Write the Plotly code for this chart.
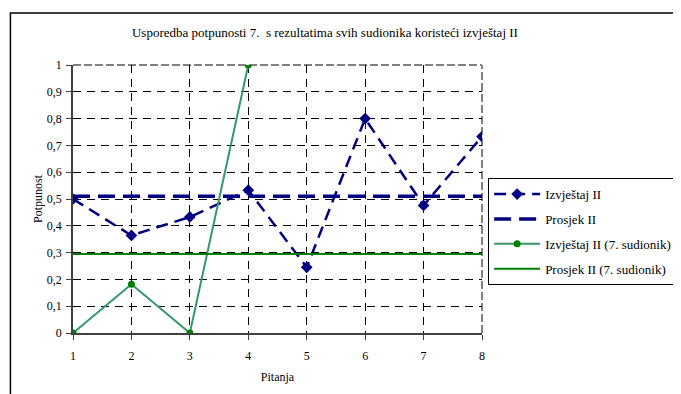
import plotly.graph_objects as go

# podaci
pitanja = [1, 2, 3, 4, 5, 6, 7, 8]
izvjestaj_ii = [0.5, 0.364, 0.433, 0.533, 0.245, 0.8, 0.476, 0.733]
prosjek_ii = [0.51, 0.51, 0.51, 0.51, 0.51, 0.51, 0.51, 0.51]
pitanja_7 = [1, 2, 3, 4]
izvjestaj_ii_7 = [0, 0.182, 0, 1]
prosjek_ii_7 = [0.295, 0.295, 0.295, 0.295, 0.295, 0.295, 0.295, 0.295]

NAVY = '#000080'
GREEN = '#008000'
SEA = '#339966'
FONT = 'Liberation Serif'

fig = go.Figure()

fig.add_trace(go.Scatter(x=pitanja, y=izvjestaj_ii, name='Izvještaj II', mode='lines+markers',
                         line=dict(color=NAVY, width=2.5, dash='12px,7px'),
                         marker=dict(symbol='diamond', size=9, color=NAVY),
                         legendgroup='a'))
fig.add_trace(go.Scatter(x=pitanja, y=prosjek_ii, name='Prosjek II', mode='lines',
                         line=dict(color=NAVY, width=3.5, dash='17px,8px'),
                         legendgroup='b'))
fig.add_trace(go.Scatter(x=pitanja_7, y=izvjestaj_ii_7, name='Izvještaj II (7. sudionik)', mode='lines+markers',
                         line=dict(color=SEA, width=2),
                         marker=dict(symbol='circle', size=7, color=GREEN),
                         legendgroup='c'))
fig.add_trace(go.Scatter(x=pitanja, y=prosjek_ii_7, name='Prosjek II (7. sudionik)', mode='lines',
                         line=dict(color=GREEN, width=2),
                         legendgroup='d'))

# stranica ima 8px margine u pregledniku, pa je sve pomaknuto za -8px
fig.update_layout(
    width=681, height=394,
    margin=dict(l=65, r=207, t=57, b=69, autoexpand=False),
    paper_bgcolor='#ffffff', plot_bgcolor='#ffffff',
    separators=', ',
    font=dict(family=FONT, size=12, color='#000000'),
    title=dict(text='Usporedba potpunosti 7.\u00a0 s rezultatima svih sudionika koristeći izvještaj II',
               xref='paper', x=0.616, xanchor='center', yref='container', y=0.939, yanchor='middle',
               font=dict(family=FONT, size=13)),
    legend=dict(x=1.015, y=0.578, xanchor='left', yanchor='top', bgcolor='#ffffff',
                bordercolor='#000000', borderwidth=1, itemwidth=46, tracegroupgap=5,
                font=dict(family=FONT, size=13)),
    showlegend=True,
)

fig.update_xaxes(range=[1, 8], tickvals=pitanja, showline=True, linecolor='#404040', linewidth=1.5,
                 ticks='outside', ticklen=5, tickcolor='#404040', ticklabelstandoff=6,
                 tickfont=dict(family=FONT, size=12),
                 showgrid=True, gridcolor='#000000', gridwidth=1, griddash='8px,6px',
                 zeroline=False, title=dict(text='Pitanja', standoff=10, font=dict(family=FONT, size=12)))
fig.update_yaxes(range=[0, 1], dtick=0.1, showline=True, linecolor='#404040', linewidth=1.5,
                 ticks='outside', ticklen=5, tickcolor='#404040', ticklabelstandoff=2,
                 tickfont=dict(family=FONT, size=12),
                 showgrid=True, gridcolor='#000000', gridwidth=1, griddash='8px,6px',
                 zeroline=False, title=dict(text='Potpunost', standoff=2, font=dict(family=FONT, size=12)))

# gornji i desni rub područja crtanja (sivo, isprekidano)
fig.add_shape(type='line', xref='paper', yref='paper', x0=0, x1=1, y0=1, y1=1,
              line=dict(color='#808080', width=2, dash='8px,3px'), layer='below')
fig.add_shape(type='line', xref='paper', yref='paper', x0=1, x1=1, y0=0, y1=1,
              line=dict(color='#808080', width=2, dash='8px,3px'), layer='below')

# vanjski okvir grafikona
fig.add_shape(type='rect', xref='paper', yref='paper', x0=-0.153, x1=1.7, y0=-0.3, y1=1.194,
              line=dict(color='#000000', width=1.5), layer='below')

fig.write_html("out.html")
